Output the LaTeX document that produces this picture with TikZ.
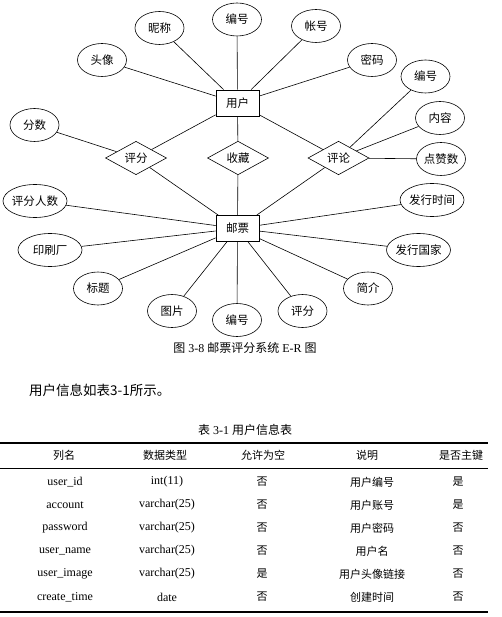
\documentclass[tikz,border=0pt]{standalone}
\usepackage{fontspec}
\setmainfont{Liberation Serif}
\newfontfamily\cjk{Noto Sans CJK SC}
\usetikzlibrary{shapes.geometric}

\begin{document}
\begin{tikzpicture}[x=1pt, y=-1pt,
					attr/.style={
						draw,
						ellipse,
						line width=0.6pt,
						minimum width=49pt,
						minimum height=33pt,
						inner xsep=-8pt,
						inner ysep=0pt,
						font=\cjk\fontsize{11.5}{12}\selectfont
					},
					wideattr/.style={
						attr,
						minimum width=64pt
					},
					entity/.style={
						draw,
						rectangle,
						line width=0.8pt,
						minimum width=43pt,
						minimum height=26pt,
						inner sep=0pt,
						font=\cjk\fontsize{11.5}{12}\selectfont
					},
					relation/.style={
						draw,
						diamond,
						line width=0.6pt,
						minimum width=61pt,
						minimum height=33pt,
						inner sep=0pt,
						font=\cjk\fontsize{11.5}{12}\selectfont
					},
					link/.style={line width=0.6pt},
					headcell/.style={font=\cjk\fontsize{11}{12}\selectfont, inner sep=1pt},
					latincell/.style={font=\fontsize{12}{13}\selectfont, inner sep=1pt},
					cjkcell/.style={font=\cjk\fontsize{11}{12}\selectfont, inner sep=1pt}
					]
					
					\useasboundingbox (0,0) rectangle (502,617);
					
					% Entities and relations
					\node (user) [entity] at (237.5, 103) {用户};
					\node (stamp) [entity] at (237.5, 228.5) {邮票};
					\node (rate) [relation] at (136, 158) {评分};
					\node (collect) [relation] at (238, 158) {收藏};
					\node (comment) [relation] at (338.5, 158) {评论};
					
					% Attributes of user
					\node (nick) [attr] at (159.5, 28) {昵称};
					\node (uid) [attr] at (237, 19.5) {编号};
					\node (avatar) [attr] at (102, 60) {头像};
					\node (account) [attr] at (316, 26) {帐号};
					\node (password) [attr] at (372, 60) {密码};
					
					% Attributes of relations
					\node (score) [attr] at (34.5, 125) {分数};
					\node (cid) [attr] at (425.5, 76.5) {编号};
					\node (content) [attr] at (440, 118) {内容};
					\node (likes) [attr] at (441, 159) {点赞数};
					
					% Attributes of stamp
					\node (raters) [wideattr] at (35, 201) {评分人数};
					\node (printer) [wideattr] at (50, 250) {印刷厂};
					\node (title) [attr] at (98, 288.5) {标题};
					\node (picture) [attr] at (172, 311) {图片};
					\node (sid) [attr] at (237, 320) {编号};
					\node (srate) [attr] at (302.5, 311) {评分};
					\node (intro) [attr] at (368, 288.5) {简介};
					\node (country) [wideattr] at (418.5, 250) {发行国家};
					\node (issue) [wideattr] at (432, 200) {发行时间};
					
					% Links
					\draw [link] (user) -- (nick);
					\draw [link] (user) -- (uid);
					\draw [link] (user) -- (avatar);
					\draw [link] (user) -- (account);
					\draw [link] (user) -- (password);
					\draw [link] (user) -- (rate);
					\draw [link] (user) -- (collect);
					\draw [link] (user) -- (comment);
					\draw [link] (stamp) -- (rate);
					\draw [link] (stamp) -- (collect);
					\draw [link] (stamp) -- (comment);
					\draw [link] (rate) -- (score);
					\draw [link] (comment) -- (cid);
					\draw [link] (comment) -- (content);
					\draw [link] (comment) -- (likes);
					\draw [link] (stamp) -- (raters);
					\draw [link] (stamp) -- (printer);
					\draw [link] (stamp) -- (title);
					\draw [link] (stamp) -- (picture);
					\draw [link] (stamp) -- (sid);
					\draw [link] (stamp) -- (srate);
					\draw [link] (stamp) -- (intro);
					\draw [link] (stamp) -- (country);
					\draw [link] (stamp) -- (issue);
					
					% Captions and text
					\node (figcap) [font=\fontsize{12}{13}\selectfont] at (245, 348) {{\cjk 图} 3-8 {\cjk 邮票评分系统} E-R {\cjk 图}};
					\node (para) [anchor=west, inner sep=0pt, font=\cjk\fontsize{13.5}{15}\selectfont] at (29, 390) {用户信息如表3-1所示。};
					\node (tabcap) [font=\fontsize{12}{13}\selectfont] at (245, 430) {{\cjk 表} 3-1 {\cjk 用户信息表}};
					
					% Table
					\draw [line width=1.2pt] (0, 443) -- (488, 443);
					\draw [line width=0.8pt] (0, 468) -- (488, 468);
					\draw [line width=1.2pt] (0, 612) -- (488, 612);
					
					\node (h1) [headcell] at (64, 455) {列名};
					\node (h2) [headcell] at (165, 455) {数据类型};
					\node (h3) [headcell] at (263, 455) {允许为空};
					\node (h4) [headcell] at (367, 455) {说明};
					\node (h5) [headcell] at (461, 455) {是否主键};
					
					\foreach \colname/\coltype/\nullok/\coldesc/\pkey [count=\i from 0] in {
						user\_id/int(11)/否/用户编号/是,
						account/varchar(25)/否/用户账号/是,
						password/varchar(25)/否/用户密码/否,
						user\_name/varchar(25)/否/用户名/否,
						user\_image/varchar(25)/是/用户头像链接/否,
						create\_time/date/否/创建时间/否}{
						\node (r\i c1) [latincell] at (65, 482+23*\i) {\colname};
						\node (r\i c2) [latincell] at (167, 482+23*\i) {\coltype};
						\node (r\i c3) [cjkcell] at (262, 482+23*\i) {\nullok};
						\node (r\i c4) [cjkcell] at (372, 482+23*\i) {\coldesc};
						\node (r\i c5) [cjkcell] at (458, 482+23*\i) {\pkey};
					}
					
				\end{tikzpicture}
\end{document}
